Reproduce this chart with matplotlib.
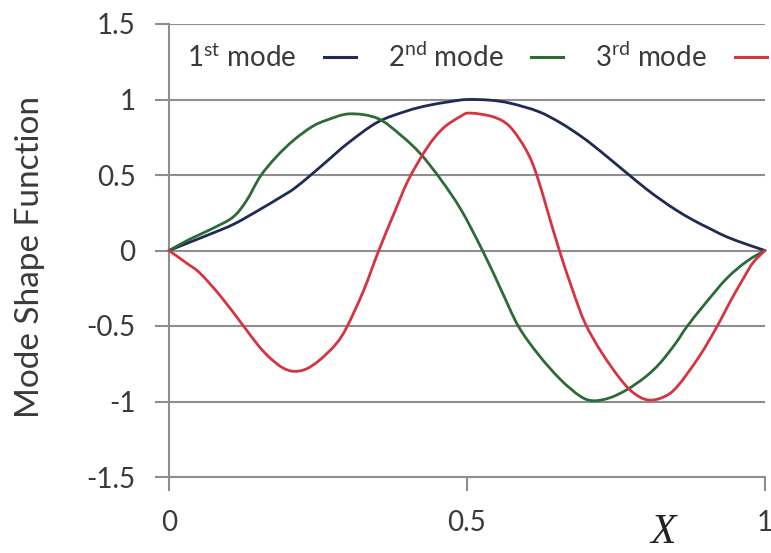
import matplotlib
matplotlib.use("Agg")
import matplotlib.pyplot as plt
import numpy as np
from matplotlib.lines import Line2D
from matplotlib.path import Path
from matplotlib.patches import PathPatch

# Mode shapes sampled along the normalised length X
x_mode1 = [0, 0.035, 0.07, 0.109, 0.154, 0.19, 0.21, 0.238, 0.266, 0.3, 0.35, 0.4,
           0.434, 0.47, 0.5, 0.54, 0.573, 0.62, 0.657, 0.69, 0.712, 0.74, 0.769, 0.8,
           0.824, 0.85, 0.88, 0.91, 0.936, 0.97, 1.0]
y_mode1 = [0, 0.055, 0.11, 0.175, 0.275, 0.36, 0.41, 0.5, 0.595, 0.71, 0.85, 0.925,
           0.96, 0.985, 1.0, 0.995, 0.975, 0.92, 0.845, 0.76, 0.695, 0.605, 0.51, 0.41,
           0.34, 0.27, 0.2, 0.14, 0.09, 0.04, 0]

x_mode2 = [0, 0.035, 0.07, 0.107, 0.13, 0.153, 0.18, 0.209, 0.24, 0.265, 0.303, 0.35,
           0.39, 0.422, 0.456, 0.49, 0.526, 0.556, 0.586, 0.62, 0.657, 0.69, 0.712,
           0.74, 0.769, 0.8, 0.824, 0.85, 0.869, 0.9, 0.936, 0.97, 1.0]
y_mode2 = [0, 0.075, 0.14, 0.22, 0.33, 0.49, 0.62, 0.73, 0.82, 0.864, 0.905, 0.875,
           0.76, 0.64, 0.47, 0.27, 0.0, -0.25, -0.5, -0.69, -0.855, -0.965, -0.995,
           -0.975, -0.92, -0.835, -0.745, -0.615, -0.504, -0.35, -0.184, -0.07, 0]

x_mode3 = [0, 0.03, 0.052, 0.086, 0.125, 0.15, 0.169, 0.19, 0.209, 0.23, 0.253, 0.28,
           0.298, 0.326, 0.352, 0.377, 0.402, 0.433, 0.46, 0.49, 0.505, 0.544, 0.572,
           0.6, 0.617, 0.636, 0.655, 0.677, 0.698, 0.725, 0.757, 0.78, 0.804, 0.83,
           0.853, 0.89, 0.92, 0.94, 0.963, 0.98, 1.0]
y_mode3 = [0, -0.085, -0.15, -0.3, -0.5, -0.63, -0.71, -0.775, -0.8, -0.785, -0.725, -0.62,
           -0.51, -0.27, 0, 0.24, 0.47, 0.68, 0.81, 0.89, 0.91, 0.885, 0.82,
           0.66, 0.5, 0.25, 0, -0.26, -0.48, -0.67, -0.85, -0.945, -0.99, -0.97,
           -0.9, -0.7, -0.5, -0.35, -0.19, -0.08, 0]

labels = [r"1$^{\rm st}$ mode", r"2$^{\rm nd}$ mode", r"3$^{\rm rd}$ mode"]
colors = ["#1f2a55", "#2c6b36", "#d63440"]

x_ticks = [0, 0.5, 1]
x_ticklabels = ["0", "0.5", "1"]
y_ticks = [-1.5, -1, -0.5, 0, 0.5, 1, 1.5]
y_ticklabels = ["-1.5", "-1", "-0.5", "0", "0.5", "1", "1.5"]

plt.rcParams["font.family"] = ["Lato", "DejaVu Sans"]
plt.rcParams["mathtext.fontset"] = "custom"
plt.rcParams["mathtext.rm"] = "Lato"
plt.rcParams["mathtext.it"] = "Lato:italic"
plt.rcParams["mathtext.bf"] = "Lato:bold"


def smooth_path(xs, ys):
    """Smoothed line through the points (Catmull-Rom segments as cubic Beziers)."""
    p = np.column_stack([xs, ys]).astype(float)
    n = len(p)
    verts = [p[0]]
    codes = [Path.MOVETO]
    for i in range(n - 1):
        p0 = p[i - 1] if i > 0 else p[i]
        p1, p2 = p[i], p[i + 1]
        p3 = p[i + 2] if i + 2 < n else p[i + 1]
        c1 = p1 + (p2 - p0) / 6.0
        c2 = p2 - (p3 - p1) / 6.0
        verts += [c1, c2, p2]
        codes += [Path.CURVE4] * 3
    return Path(verts, codes)


W, H = 771, 553
fig = plt.figure(figsize=(W / 100, H / 100), dpi=100)
left, right, top, bottom = 169, 765, 24, 477
ax = fig.add_axes([left / W, 1 - bottom / H, (right - left) / W, (bottom - top) / H])

grid_col = "#8e8e8e"
text_col = "#3a3a3a"

for xs, ys, c in zip([x_mode1, x_mode2, x_mode3], [y_mode1, y_mode2, y_mode3], colors):
    patch = PathPatch(smooth_path(xs, ys), facecolor="none", edgecolor=c, lw=2.0,
                      joinstyle="round", capstyle="round", transform=ax.transData,
                      clip_on=False, zorder=3)
    ax.add_patch(patch)

ax.set_xlim(0, 1)
ax.set_ylim(-1.5, 1.5)
ax.set_xticks(x_ticks)
ax.set_xticklabels(x_ticklabels)
ax.set_yticks(y_ticks)
ax.set_yticklabels(y_ticklabels)

ax.yaxis.grid(True, color=grid_col, lw=1.5)
ax.set_axisbelow(True)
for s in ["top", "right"]:
    ax.spines[s].set_visible(False)
for s in ["left", "bottom"]:
    ax.spines[s].set_color(grid_col)
    ax.spines[s].set_linewidth(1.5)

ax.tick_params(axis="both", direction="out", length=10, width=1.5, color=grid_col,
               labelsize=20, labelcolor=text_col)
ax.tick_params(axis="y", pad=14)
ax.tick_params(axis="x", pad=14)

fig.text(30 / W, 1 - 257 / H, "Mode Shape Function", rotation=90, ha="center",
         va="center", fontsize=24, color=text_col)
fig.text(663 / W, 1 - 533 / H, "X", family="Liberation Serif", style="italic",
         fontsize=30, ha="center", va="center", color="#222222")

handles = [Line2D([0], [0], color=c, lw=2.2) for c in colors]
ax.legend(handles, labels, ncol=3, markerfirst=False, frameon=False,
          loc="center left", bbox_to_anchor=(187 / W, 1 - 57 / H),
          bbox_transform=fig.transFigure, borderaxespad=0, borderpad=0,
          fontsize=20, handlelength=1.15, handletextpad=1.0, columnspacing=1.15,
          labelcolor=text_col)

fig.savefig("out.png", dpi=100, facecolor="white")
